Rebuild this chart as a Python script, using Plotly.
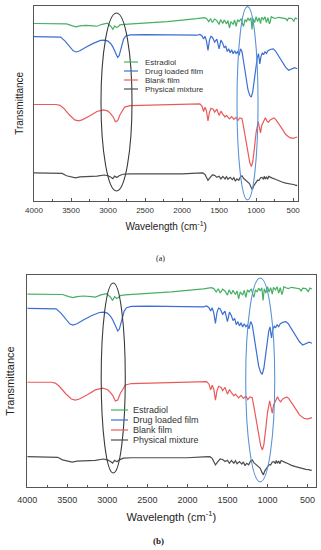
import plotly.graph_objects as go

# ---------------- data ----------------
names = ["Estradiol", "Drug loaded film", "Blank film", "Physical mixture"]
colors = ["#46b064", "#3b6fd4", "#eb5a5a", "#4d4d4d"]

est_wn = [4000, 3700, 3560, 3480, 3430, 3380, 3300, 3200, 3150, 3080, 3010, 2960, 2935, 2910, 2885,
          2860, 2840, 2780, 2600, 2200, 1800, 1700, 1670, 1640, 1615, 1590, 1560, 1530, 1500, 1480,
          1450, 1430, 1400, 1380, 1360, 1340, 1310, 1290, 1270, 1250, 1230, 1200, 1185, 1170, 1150,
          1130, 1110, 1090, 1070, 1055, 1040, 1020, 1000, 980, 960, 940, 925, 900, 880, 860,
          840, 820, 810, 795, 770, 740, 700, 650, 600, 580, 560, 520, 490, 470, 445]
est_t = [91.0, 91.0, 90.8, 89.8, 89.3, 89.8, 90.1, 89.8, 89.6, 90.6, 91.2, 89.5, 88.0, 89.8, 88.9,
         89.4, 90.3, 90.6, 91.0, 92.0, 93.5, 94.0, 93.6, 92.0, 93.5, 91.5, 93.3, 92.5, 90.5, 93.0,
         91.0, 92.8, 90.8, 92.5, 88.7, 92.0, 90.5, 92.8, 89.5, 93.0, 92.0, 93.5, 91.0, 89.5, 93.0,
         92.0, 93.8, 92.5, 94.0, 88.0, 93.5, 91.5, 94.5, 92.0, 94.0, 91.0, 94.2, 93.0, 94.5, 91.5,
         94.0, 90.8, 91.8, 94.5, 94.0, 93.6, 94.2, 93.8, 93.5, 92.5, 93.8, 93.6, 92.2, 93.8, 93.4]

drug_wn = [4000, 3700, 3640, 3580, 3520, 3470, 3430, 3380, 3300, 3200, 3100, 3050, 3000, 2960, 2935,
           2900, 2870, 2850, 2820, 2790, 2760, 2700, 2500, 2000, 1800, 1760, 1730, 1710, 1690, 1670,
           1650, 1630, 1610, 1590, 1560, 1530, 1500, 1475, 1450, 1430, 1410, 1390, 1370, 1350, 1330,
           1310, 1290, 1270, 1250, 1230, 1210, 1190, 1170, 1140, 1110, 1085, 1065, 1045, 1020, 1000,
           985, 968, 950, 935, 915, 900, 880, 860, 840, 800, 770, 740, 700, 650, 600,
           560, 520, 480, 445]
drug_t = [84.3, 84.3, 84.0, 82.0, 79.0, 77.0, 76.4, 77.0, 78.8, 80.8, 82.3, 82.5, 82.0, 80.5, 79.0,
          76.0, 73.6, 74.5, 79.0, 83.0, 84.6, 85.2, 85.3, 85.2, 85.0, 85.4, 84.6, 83.0, 84.5, 82.0,
          77.2, 82.5, 84.4, 84.0, 81.5, 83.0, 78.0, 82.5, 80.8, 78.5, 79.5, 76.6, 78.0, 76.0, 77.5,
          75.5, 77.0, 75.6, 76.5, 74.6, 78.0, 76.5, 72.0, 64.0, 57.0, 54.0, 53.2, 56.0, 63.5, 70.0,
          73.3, 75.5, 70.3, 74.0, 76.0, 75.0, 76.5, 75.6, 77.0, 77.8, 78.0, 77.0, 74.5, 71.0, 68.5,
          67.0, 67.5, 68.3, 67.8]

blank_wn = [4000, 3700, 3650, 3600, 3520, 3450, 3400, 3350, 3250, 3150, 3060, 3000, 2960, 2930, 2900,
            2870, 2840, 2800, 2775, 2700, 2400, 2000, 1800, 1760, 1730, 1710, 1690, 1670, 1650, 1630,
            1610, 1580, 1560, 1530, 1500, 1475, 1450, 1420, 1400, 1380, 1360, 1330, 1300, 1270, 1245,
            1220, 1190, 1170, 1140, 1110, 1085, 1063, 1045, 1020, 1000, 972, 955, 940, 925, 900,
            875, 855, 835, 810, 760, 735, 700, 650, 600, 545, 500, 445]
blank_t = [49.4, 49.4, 49.0, 47.5, 44.0, 41.5, 41.0, 41.5, 43.5, 45.8, 46.6, 46.0, 44.5, 43.0, 40.6,
           41.0, 44.0, 47.0, 48.1, 48.8, 49.2, 49.5, 49.7, 49.7, 48.5, 45.8, 48.0, 46.0, 41.0, 45.5,
           47.5, 47.0, 45.5, 47.0, 43.8, 46.0, 44.5, 43.0, 43.8, 42.8, 42.0, 43.2, 41.8, 42.8, 41.2,
           42.5, 42.1, 38.0, 31.0, 24.0, 19.5, 17.5, 20.0, 28.0, 35.0, 40.6, 38.0, 34.8, 38.5, 41.0,
           42.6, 41.0, 40.2, 41.5, 42.5, 41.8, 40.0, 37.0, 34.0, 32.4, 32.0, 32.7]

mix_wn = [4000, 3700, 3620, 3560, 3480, 3440, 3380, 3300, 3150, 3050, 3000, 2960, 2935, 2910, 2880,
          2850, 2800, 2700, 2400, 2000, 1800, 1720, 1690, 1665, 1650, 1620, 1590, 1560, 1530, 1500,
          1475, 1450, 1420, 1400, 1380, 1350, 1320, 1300, 1280, 1260, 1235, 1210, 1190, 1170, 1140,
          1110, 1090, 1070, 1050, 1035, 1020, 1000, 980, 960, 940, 920, 900, 890, 875, 860,
          845, 830, 810, 780, 740, 700, 650, 600, 560, 520, 480, 460, 445]
mix_t = [14.3, 14.3, 14.0, 12.8, 11.9, 11.7, 12.2, 12.3, 12.6, 13.2, 12.8, 12.0, 11.3, 12.6, 11.9,
         12.8, 13.6, 13.8, 13.7, 13.8, 14.2, 14.3, 13.5, 11.0, 10.4, 12.0, 13.2, 13.0, 12.0, 12.6,
         11.2, 12.5, 11.2, 12.4, 11.0, 12.0, 10.8, 11.8, 10.0, 11.2, 10.5, 12.3, 12.8, 11.5, 10.5,
         9.5, 8.8, 7.0, 5.7, 7.5, 8.5, 9.3, 10.5, 10.4, 11.8, 12.0, 11.0, 12.5, 11.2, 12.3,
         11.0, 12.5, 12.0, 11.6, 11.0, 10.2, 9.6, 9.0, 8.8, 8.3, 8.2, 7.8, 8.0]

series_wn = [est_wn, drug_wn, blank_wn, mix_wn]
series_t = [est_t, drug_t, blank_t, mix_t]

tick_vals = [4000, 3500, 3000, 2500, 2000, 1500, 1000, 500]
tick_text = ["4000", "3500", "3000", "2500", "2000", "1500", "1000", "500"]

# highlighted band regions (wavenumber span, transmittance span) per panel
black_ell = {"a": (3095, 2676, 5.0, 96.4), "b": (3077, 2776, 6.6, 96.2)}
blue_ell = {"a": (1258, 974, 0.4, 99.7), "b": (1272, 909, 2.4, 98.6)}

# ---------------- figure ----------------
W, H = 321, 550
FONT = "Arial, Liberation Sans, sans-serif"
fig = go.Figure()

panels = {
    "a": dict(xa="x", ya="y", xdom=(34, 298.3), ydom=(6, 200.7), xr=(4000, 430),
              tick=8, title=10, ytitle=10, ystand=7, xstand=8, tlstand=2,
              leg_x=(124, 138, 143), leg_y=[62, 71, 80, 89], leg_font=8,
              cap="(a)", cap_xy=(160, 258), cap_size=8, cap_bold=False),
    "b": dict(xa="x2", ya="y2", xdom=(27.3, 315.5), ydom=(275, 487), xr=(4000, 400),
              tick=9, title=11, ytitle=11, ystand=9, xstand=9, tlstand=4,
              leg_x=(111, 128, 131), leg_y=[410, 420, 430, 440], leg_font=9,
              cap="(b)", cap_xy=(158, 541), cap_size=9, cap_bold=True),
}

shapes = []
annotations = []
for key, p in panels.items():
    for name, col, wn, t in zip(names, colors, series_wn, series_t):
        fig.add_trace(go.Scatter(x=wn, y=t, mode="lines", name=name, xaxis=p["xa"], yaxis=p["ya"],
                                 line=dict(color=col, width=1.2), showlegend=False,
                                 hoverinfo="skip"))
    # ellipses
    for (x0, x1, y0, y1), col in ((black_ell[key], "#3a3a3a"), (blue_ell[key], "#5a93d6")):
        shapes.append(dict(type="circle", xref=p["xa"], yref=p["ya"], x0=x0, x1=x1, y0=y0, y1=y1,
                           line=dict(color=col, width=1.1), layer="above"))
    # legend (compact, as in the reference)
    lx0, lx1, tx = p["leg_x"]
    for name, col, yy in zip(names, colors, p["leg_y"]):
        yp = 1 - yy / H
        shapes.append(dict(type="line", xref="paper", yref="paper", x0=lx0 / W, x1=lx1 / W,
                           y0=yp, y1=yp, line=dict(color=col, width=1.2)))
        annotations.append(dict(text=name, xref="paper", yref="paper", x=tx / W, y=yp,
                                xanchor="left", yanchor="middle", showarrow=False,
                                font=dict(family=FONT, size=p["leg_font"], color="#333333")))
    cx, cy = p["cap_xy"]
    annotations.append(dict(text=("<b>%s</b>" % p["cap"]) if p["cap_bold"] else p["cap"],
                            xref="paper", yref="paper", x=cx / W, y=1 - cy / H,
                            xanchor="center", yanchor="middle", showarrow=False,
                            font=dict(family="Liberation Serif, Times New Roman, serif",
                                      size=p["cap_size"], color="#222222")))

    xname = "xaxis" if p["xa"] == "x" else "xaxis2"
    yname = "yaxis" if p["ya"] == "y" else "yaxis2"
    fig.update_layout(**{
        xname: dict(domain=[p["xdom"][0] / W, p["xdom"][1] / W], range=list(p["xr"]),
                    anchor=p["ya"], tickvals=tick_vals, ticktext=tick_text, automargin=False,
                    ticks="inside", ticklen=3, tickcolor="#555555", tickwidth=1,
                    ticklabelstandoff=p["tlstand"],
                    minor=dict(dtick=250, ticks="inside", ticklen=2, tickcolor="#555555"),
                    showline=True, linecolor="#555555", linewidth=1, mirror=True,
                    showgrid=False, zeroline=False,
                    tickfont=dict(family=FONT, size=p["tick"], color="#333333"),
                    title=dict(text="Wavelength (cm<sup>-1</sup>)", standoff=p["xstand"],
                               font=dict(family=FONT, size=p["title"], color="#222222"))),
        yname: dict(domain=[1 - p["ydom"][1] / H, 1 - p["ydom"][0] / H], range=[0, 100],
                    anchor=p["xa"], showticklabels=False, ticks="", automargin=False,
                    showline=True, linecolor="#555555", linewidth=1, mirror=True,
                    showgrid=False, zeroline=False,
                    title=dict(text="Transmittance", standoff=p["ystand"],
                               font=dict(family=FONT, size=p["ytitle"], color="#222222"))),
    })

fig.update_layout(width=W, height=H, autosize=False,
                  margin=dict(l=0, r=0, t=0, b=0),
                  paper_bgcolor="white", plot_bgcolor="white",
                  shapes=shapes, annotations=annotations, showlegend=False)

fig.write_html("out.html", config={"displayModeBar": False},
               post_script="document.body.style.margin='0';")
